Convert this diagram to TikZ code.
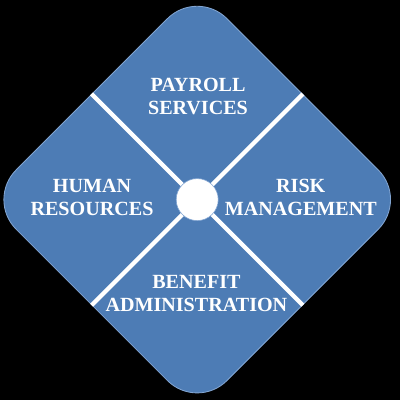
\documentclass[tikz,border=0pt]{standalone}
\usepackage{fontspec}
\setmainfont{Liberation Serif}
\definecolor{tileblue}{RGB}{77,124,181}
\definecolor{tileedge}{RGB}{130,165,210}
\tikzset{tiletext/.style={text=white, align=center, font=\fontsize{14.3}{16.5}\selectfont\bfseries}}
\begin{document}
\begin{tikzpicture}
    \fill[black] (0,0) rectangle (10,10);
    \useasboundingbox (0,0) rectangle (10,10);

      % the tile and its cross
      \node[rectangle, rounded corners=1.05cm, minimum size=7.45cm, rotate=45,
            fill=tileblue, draw=tileedge, line width=0.6pt] (dia) at (4.93,5.01) {};
      \draw[white, line width=3pt] (dia.north) -- (dia.south);
      \draw[white, line width=3pt] (dia.east) -- (dia.west);
      \node[circle, fill=white, draw=tileedge, minimum size=1.05cm] (hub) at (4.93,5.01) {};

      \node[tiletext] (payroll) at (4.95,7.59) {PAYROLL\\SERVICES};
      \node[tiletext] (human) at (2.3,5.06) {HUMAN\\RESOURCES};
      \node[tiletext] (risk) at (7.52,5.06) {RISK\\MANAGEMENT};
      \node[tiletext] (benefit) at (4.91,2.66) {BENEFIT\\ADMINISTRATION};
  \end{tikzpicture}
\end{document}
